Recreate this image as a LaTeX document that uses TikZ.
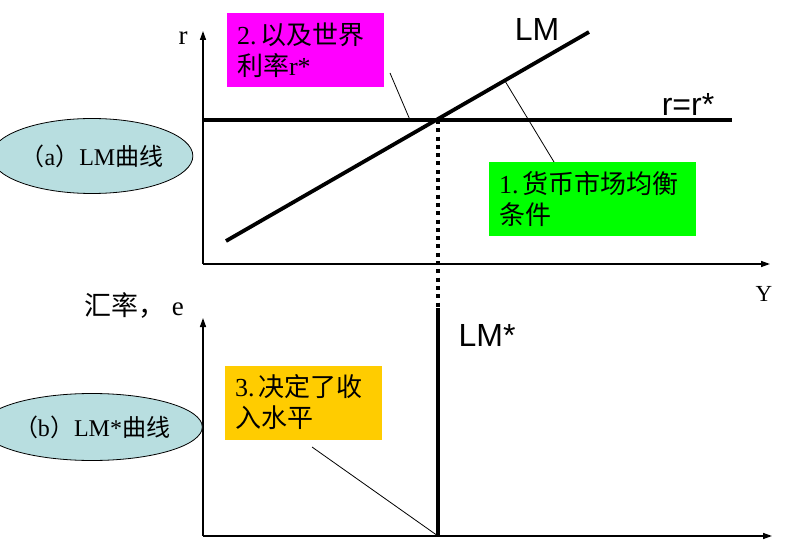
\documentclass[tikz,border=0pt]{standalone}
\usepackage{fontspec}
\setmainfont{Liberation Serif}
\newfontfamily\cjk{Noto Sans CJK SC}
\newfontfamily\sansf{Liberation Sans}
\usetikzlibrary{arrows.meta,shapes.geometric}
\definecolor{ovalcol}{RGB}{184,222,224}
\definecolor{magbox}{RGB}{255,0,255}
\definecolor{grnbox}{RGB}{0,255,0}
\definecolor{yelbox}{RGB}{255,204,0}
\begin{document}
\begin{tikzpicture}[x=1pt,y=-1pt,
  axis/.style={line width=1.4pt,-{Triangle[length=9pt,width=6pt]}},
  curve/.style={line width=3.8pt},
  dotline/.style={line width=3.8pt,dash pattern=on 4pt off 4.3pt},
  leader/.style={line width=0.8pt},
  callout/.style={inner xsep=10pt,inner ysep=0pt,outer sep=0pt,minimum height=74pt,
    text width=#1,align=left,font=\fontsize{26}{31}\selectfont},
  oval/.style={ellipse,draw,fill=ovalcol,line width=0.8pt,inner sep=0pt,minimum width=181pt},
  biglab/.style={font=\sansf\fontsize{32}{32}\selectfont},
  axlab/.style={font=\fontsize{#1}{#1}\selectfont}
]
\useasboundingbox (0,0) rectangle (811,545);

% coordinates
\coordinate (O1) at (203,264);
\coordinate (Ytop) at (203,31);
\coordinate (Xend) at (770,264);
\coordinate (O2) at (203,536);
\coordinate (Etop) at (203,318);
\coordinate (X2end) at (772,536);
\coordinate (Rs) at (203,120);
\coordinate (Re) at (732,120);
\coordinate (LMs) at (226,241);
\coordinate (LMe) at (589,32);
\coordinate (E) at (438,120);
\coordinate (Ftop) at (438,308);
\coordinate (F) at (438,536);
\coordinate (m1) at (390,73);
\coordinate (m2) at (410,120);
\coordinate (g1) at (554,162);
\coordinate (g2) at (505,81);
\coordinate (y1) at (312,447);

% axes
\draw[axis] (O1) -- (Ytop);
\draw[axis] (O1) -- (Xend);
\draw[axis] (O2) -- (Etop);
\draw[axis] (O2) -- (X2end);

% curves
\draw[curve] (Rs) -- (Re);
\draw[curve] (LMs) -- (LMe);
\draw[dotline] (E) -- (Ftop);
\draw[curve] (Ftop) -- (F);

% callouts
\node[callout=137pt,fill=magbox] (mag) at (305.5,50)
  {2.\,{\cjk 以及世界}\\{\cjk 利率}r*};
\node[callout=187pt,fill=grnbox] (grn) at (592.5,199)
  {1.\,{\cjk 货币市场均衡}\\{\cjk 条件}};
\node[callout=137pt,fill=yelbox] (yel) at (303.5,402.5)
  {3.\,{\cjk 决定了收}\\{\cjk 入水平}};

% leaders
\draw[leader] (m1) -- (m2);
\draw[leader] (g1) -- (g2);
\draw[leader] (y1) -- (F);

% ovals
\node[oval,minimum height=75pt] (ova) at (92,156)
  {\fontsize{24}{24}\selectfont{\cjk （}a{\cjk ）}LM{\cjk 曲线}};
\node[oval,minimum height=67pt] (ovb) at (92,427)
  {\fontsize{24}{24}\selectfont{\cjk （}b{\cjk ）}LM*{\cjk 曲线}};

% labels
\node[axlab=27] (rlab) at (183,38) {r};
\node[axlab=23] (ylab) at (764,294) {Y};
\node[axlab=27] (elab) at (134,306) {{\cjk 汇率，}\ e};
\node[biglab] (lmlab) at (537,29) {LM};
\node[biglab] (rrlab) at (688,104) {r=r*};
\node[biglab] (lmslab) at (487,335) {LM*};
\end{tikzpicture}
\end{document}
